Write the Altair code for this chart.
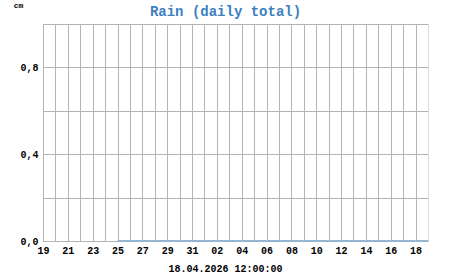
import altair as alt
import pandas as pd

# ---- data ----
days = pd.date_range("2026-03-19", "2026-04-18", freq="D")
day_starts = [d.strftime("%Y-%m-%d") for d in days]
day_ends = [(d + pd.Timedelta(days=1)).strftime("%Y-%m-%d") for d in days]
# daily rain total (cm); no value before 25.03
rain = [None] * 6 + [0.0] * 25

x_domain = ["2026-03-19", "2026-04-19"]
y_ticks = [0.0, 0.2, 0.4, 0.6, 0.8, 1.0]
y_labels = [0.0, 0.4, 0.8]
timestamp_label = "18.04.2026 12:00:00"
title_text = "Rain (daily total)"
unit_text = "cm"

df = pd.DataFrame({"start": day_starts, "end": day_ends, "rain": rain}).dropna()

start_ms = pd.Timestamp(x_domain[0]).value // 10**6
x_tick_values = [int(pd.Timestamp(d).value // 10**6) for d in day_starts]

FONT = "Liberation Mono"
GRID = "#b4b4b4"

x_axis = alt.Axis(
    values=x_tick_values,
    labelExpr=f"round((datum.value - {start_ms})/86400000) % 2 == 0 ? utcFormat(datum.value, '%d') : ''",
    grid=True, gridColor=GRID, gridWidth=1, gridOpacity=1,
    ticks=False, domainColor=GRID, domainWidth=1,
    labelFont=FONT, labelFontWeight="bold", labelFontSize=10, labelColor="#000",
    labelPadding=4, labelFlush=False, labelOverlap=False,
    title=timestamp_label, titleFont=FONT, titleFontWeight="bold", titleFontSize=10,
    titleColor="#000", titlePadding=8, titleX=182, titleAlign="center",
)

y_axis = alt.Axis(
    values=y_ticks,
    labelExpr="indexof([" + ",".join(str(v) for v in y_labels) + "], datum.value) >= 0 ? replace(format(datum.value, '.1f'), '.', ',') : ''",
    grid=True, gridColor=GRID, gridWidth=1, gridOpacity=1,
    ticks=False, domainColor=GRID, domainWidth=1,
    labelFont=FONT, labelFontWeight="bold", labelFontSize=10, labelColor="#000",
    labelPadding=5, labelFlush=False, labelOverlap=False,
    title=unit_text, titleFont=FONT, titleFontWeight="bold", titleFontSize=8,
    titleColor="#000", titleAngle=0, titleX=-25, titleY=-15, titleAlign="center",
)

chart = alt.Chart(df).mark_rule(color="#94b6d3", strokeWidth=2).encode(
    x=alt.X("start:T", scale=alt.Scale(type="utc", domain=x_domain), axis=x_axis),
    x2="end:T",
    y=alt.Y("rain:Q", scale=alt.Scale(domain=[0, 1], nice=False), axis=y_axis),
).properties(
    width=385,
    height=217,
    title=alt.TitleParams(
        title_text, font=FONT, fontWeight="bold", fontSize=14, color="#3d7fc1",
        anchor="middle", offset=-18, dx=-10,
    ),
    autosize=alt.AutoSizeParams(type="none"),
    padding={"left": 43, "top": 24, "right": 23, "bottom": 34},
).configure_view(
    stroke=GRID, strokeWidth=1
).configure(background="white")

chart.save("out.html", embed_options={"renderer": "svg", "actions": False})
